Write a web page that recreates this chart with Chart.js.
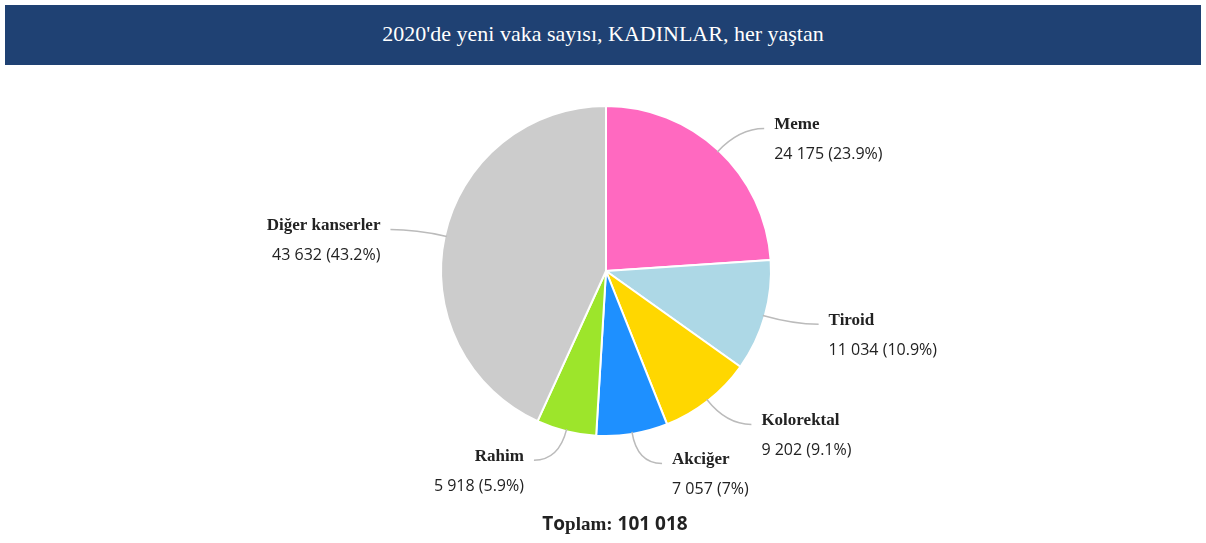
<!DOCTYPE html>
<html>
<head>
<meta charset="utf-8">
<script src="https://cdn.jsdelivr.net/npm/chart.js@4/dist/chart.umd.min.js"></script>
<style>
  body { margin: 0; background: #fff; width: 1206px; height: 543px; position: relative; overflow: hidden; }
  #title { position: absolute; left: 5px; top: 5px; width: 1196px; height: 60px; background: #1f4173;
    color: #fff; font-family: "Liberation Serif", serif; font-size: 22px; line-height: 58px; text-align: center; }
  #wrap { position: absolute; left: 0; top: 0; width: 1206px; height: 543px; }
  #total { position: absolute; left: 0; width: 1206px; top: 510px; text-align: center; font-size: 19px; font-weight: bold; color: #222;
    font-family: "Open Sans", sans-serif; padding-left: 24px; box-sizing: border-box; }
  #total .s { font-family: "Liberation Serif", serif; }
</style>
</head>
<body>
<div id="title">2020'de yeni vaka sayısı, KADINLAR, her yaştan</div>
<div id="wrap"><canvas id="c"></canvas></div>
<div id="total">To<span class="s">plam:</span> 101 018</div>
<script>
const categories = ["Meme", "Tiroid", "Kolorektal", "Akciğer", "Rahim", "Diğer kanserler"];
const values = [24175, 11034, 9202, 7057, 5918, 43632];
const valueLabels = ["24 175 (23.9%)", "11 034 (10.9%)", "9 202 (9.1%)", "7 057 (7%)", "5 918 (5.9%)", "43 632 (43.2%)"];
const colors = ["#ff69c0", "#add8e6", "#ffd700", "#1e90ff", "#9de52b", "#cccccc"];

//draw leader lines and labels from each arc
const labelPlugin = {
  id: "pieLabels",
  afterDatasetsDraw(chart) {
    const ctx = chart.ctx;
    const meta = chart.getDatasetMeta(0);
    meta.data.forEach((arc, i) => {
      const { x, y, startAngle, endAngle, outerRadius } = arc.getProps(["x", "y", "startAngle", "endAngle", "outerRadius"], true);
      const mid = (startAngle + endAngle) / 2;
      const cos = Math.cos(mid), sin = Math.sin(mid);
      const right = cos >= 0;
      const p0 = { x: x + cos * (outerRadius - 2), y: y + sin * (outerRadius - 2) };
      const p1 = { x: x + cos * (outerRadius + 30), y: y + sin * (outerRadius + 30) };
      const p2 = { x: p1.x + (right ? 25 : -25), y: p1.y };
      ctx.save();
      ctx.strokeStyle = "#bbbbbb";
      ctx.lineWidth = 1.5;
      ctx.beginPath();
      ctx.moveTo(p0.x, p0.y);
      ctx.quadraticCurveTo(p1.x, p1.y, p2.x, p2.y);
      ctx.stroke();
      const tx = p2.x + (right ? 10 : -10);
      ctx.textAlign = right ? "left" : "right";
      ctx.textBaseline = "middle";
      ctx.fillStyle = "#222";
      ctx.font = "bold 17px 'Liberation Serif', serif";
      ctx.fillText(categories[i], tx, p2.y - 4);
      ctx.font = "16px 'Open Sans', sans-serif";
      ctx.fillText(valueLabels[i], tx, p2.y + 26);
      ctx.restore();
    });
  },
};

new Chart(document.getElementById("c"), {
  type: "pie",
  data: {
    labels: categories,
    datasets: [{ data: values, backgroundColor: colors, borderColor: "#ffffff", borderWidth: 2 }],
  },
  options: {
    responsive: true,
    maintainAspectRatio: false,
    animation: false,
    layout: { padding: { top: 105, bottom: 106, left: 6, right: 0 } },
    plugins: { legend: { display: false }, tooltip: { enabled: false } },
  },
  plugins: [labelPlugin],
});
</script>
</body>
</html>
